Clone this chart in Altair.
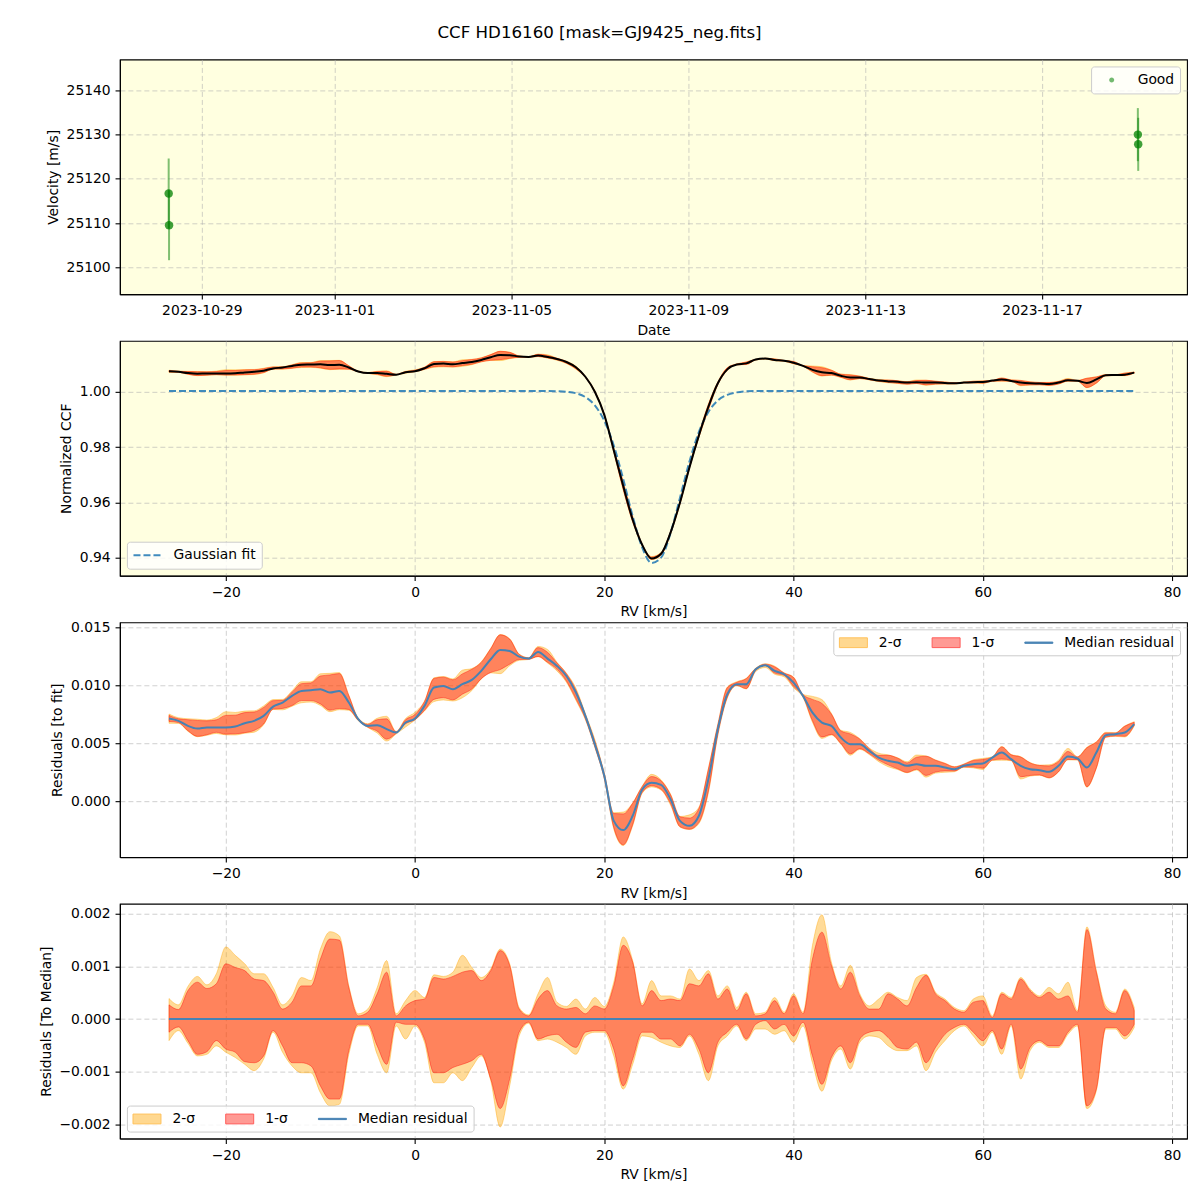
import altair as alt
import numpy as np
import pandas as pd

FONT = "DejaVu Sans"
FS = 13.89
BG = "#FFFFE0"
TITLE = "CCF HD16160 [mask=GJ9425_neg.fits]"

# ---------------- panel 1 : RV time series ----------------
obs_dates = ["2023-10-28T06:00", "2023-10-28T06:12", "2023-11-19T03:58", "2023-11-19T04:10"]
obs_vel = [25116.7, 25109.5, 25130.0, 25127.8]
obs_err = [7.9, 7.9, 6.0, 6.0]
obs_flag = ["Good", "Good", "Good", "Good"]

# ---------------- RV grid (km/s) ----------------
rv = list(range(-26, 77))

# Gaussian fit to the CCF
gauss_fit = [
    1.0003, 1.0003, 1.0003, 1.0003, 1.0003, 1.0003, 1.0003, 1.0003, 1.0003, 1.0003,  # -26..-17
    1.0003, 1.0003, 1.0003, 1.0003, 1.0003, 1.0003, 1.0003, 1.0003, 1.0003, 1.0003,  # -16..-7
    1.0003, 1.0003, 1.0003, 1.0003, 1.0003, 1.0003, 1.0003, 1.0003, 1.0003, 1.0003,  # -6..3
    1.0003, 1.0003, 1.0003, 1.0003, 1.0003, 1.0003, 1.0003, 1.0003, 1.0003, 1.0003,  # 4..13
    1.0003, 1.0002, 1.0000, 0.9995, 0.9981, 0.9951, 0.9895, 0.9806, 0.9684, 0.9550,  # 14..23
    0.9437, 0.9381, 0.9400, 0.9489, 0.9617, 0.9748, 0.9855, 0.9927, 0.9969, 0.9989,  # 24..33
    0.9998, 1.0002, 1.0003, 1.0003, 1.0003, 1.0003, 1.0003, 1.0003, 1.0003, 1.0003,  # 34..43
    1.0003, 1.0003, 1.0003, 1.0003, 1.0003, 1.0003, 1.0003, 1.0003, 1.0003, 1.0003,  # 44..53
    1.0003, 1.0003, 1.0003, 1.0003, 1.0003, 1.0003, 1.0003, 1.0003, 1.0003, 1.0003,  # 54..63
    1.0003, 1.0003, 1.0003, 1.0003, 1.0003, 1.0003, 1.0003, 1.0003, 1.0003, 1.0003,  # 64..73
    1.0003, 1.0003, 1.0003,                                                          # 74..76
]

# Median residual (CCF - fit), units of 1e-3
median_resid_milli = [
    7.13, 6.93, 6.49, 6.26, 6.35, 6.35, 6.35, 6.44, 6.72, 6.93,      # -26..-17
    7.36, 8.16, 8.51, 9.08, 9.51, 9.57, 9.66, 9.37, 9.51, 8.51,      # -16..-7
    7.07, 6.49, 6.55, 6.21, 5.92, 6.78, 7.13, 8.22, 9.80, 9.94,      # -6..3
    9.66, 10.09, 10.46, 11.24, 12.24, 13.05, 12.96, 12.47, 12.30, 12.87,  # 4..13
    12.30, 11.67, 10.80, 9.37, 7.36, 4.91, 2.18, -1.70, -2.50, -1.26,     # 14..23
    1.00, 1.58, 1.40, 0.17, -1.70, -2.13, -1.26, 1.90, 6.21, 9.22,        # 24..33
    10.09, 10.09, 11.38, 11.72, 11.24, 10.95, 10.23, 9.08, 7.64, 6.78,    # 34..43
    6.49, 5.49, 4.91, 4.91, 4.34, 3.76, 3.48, 3.33, 3.05, 3.19,           # 44..53
    3.05, 3.05, 2.90, 2.76, 3.05, 3.19, 3.25, 3.76, 4.20, 3.62,           # 54..63
    3.05, 2.76, 2.67, 2.53, 3.05, 3.85, 3.68, 2.90, 4.20, 5.69,           # 64..73
    5.78, 5.92, 6.64,                                                     # 74..76
]

# Spread around the median (units of 1e-3)
sig1_hi_milli = [
    0.27, 0.18, 0.54, 0.70, 0.58, 0.67, 1.05, 0.98, 0.92, 0.76,
    0.73, 0.51, 0.19, 0.32, 0.63, 0.63, 1.14, 1.52, 1.50, 0.60,
    0.06, 0.13, 0.48, 0.89, 0.06, 0.25, 0.35, 0.38, 0.79, 0.76,
    0.81, 0.89, 0.92, 0.73, 0.92, 1.30, 1.02, 0.19, 0.06, 0.38,
    0.54, 0.25, 0.19, 0.22, 0.10, 0.25, 0.19, 0.63, 1.40, 1.08,
    0.25, 0.54, 0.35, 0.38, 0.35, 0.67, 0.63, 0.86, 0.38, 0.57,
    0.16, 0.48, 0.06, 0.10, 0.35, 0.10, 0.44, 0.10, 1.14, 1.65,
    1.02, 0.57, 0.89, 0.44, 0.19, 0.19, 0.48, 0.38, 0.25, 0.60,
    0.83, 0.48, 0.35, 0.19, 0.13, 0.32, 0.35, 0.03, 0.48, 0.38,
    0.76, 0.54, 0.41, 0.51, 0.38, 0.44, 0.13, 1.70, 0.89, 0.19,
    0.10, 0.54, 0.16,
]
sig2_hi_milli = [
    0.39, 0.27, 0.62, 0.81, 0.65, 0.86, 1.37, 1.21, 1.05, 0.86,
    0.86, 0.60, 0.27, 0.44, 0.79, 0.73, 1.33, 1.66, 1.58, 0.63,
    0.10, 0.19, 0.60, 1.11, 0.10, 0.35, 0.54, 0.41, 0.84, 0.81,
    0.89, 1.21, 0.98, 0.79, 0.95, 1.33, 1.05, 0.22, 0.08, 0.48,
    0.79, 0.32, 0.24, 0.38, 0.19, 0.41, 0.24, 0.70, 1.56, 1.11,
    0.29, 0.73, 0.44, 0.44, 0.38, 0.95, 0.73, 0.92, 0.44, 0.63,
    0.22, 0.51, 0.10, 0.13, 0.41, 0.13, 0.48, 0.13, 1.40, 1.98,
    1.08, 0.63, 1.02, 0.48, 0.25, 0.38, 0.51, 0.41, 0.35, 0.79,
    0.85, 0.51, 0.38, 0.22, 0.16, 0.38, 0.44, 0.06, 0.51, 0.41,
    0.79, 0.57, 0.44, 0.60, 0.48, 0.70, 0.16, 1.75, 0.92, 0.25,
    0.13, 0.57, 0.22,
]
sig1_lo_milli = [
    -0.25, -0.15, -0.41, -0.67, -0.62, -0.41, -0.57, -0.63, -0.81, -0.83,
    -0.70, -0.22, -0.51, -0.83, -0.83, -0.89, -1.27, -1.52, -1.52, -0.60,
    -0.10, -0.10, -0.51, -0.86, -0.06, -0.10, -0.10, -0.38, -1.02, -1.02,
    -0.92, -0.86, -0.79, -0.67, -1.14, -1.70, -1.14, -0.25, -0.06, -0.38,
    -0.32, -0.29, -0.44, -0.54, -0.25, -0.22, -0.22, -0.57, -1.27, -0.76,
    -0.25, -0.25, -0.38, -0.38, -0.51, -0.29, -0.57, -1.02, -0.44, -0.25,
    -0.10, -0.38, -0.10, -0.03, -0.19, -0.10, -0.32, -0.06, -0.70, -1.24,
    -0.73, -0.51, -0.83, -0.38, -0.25, -0.22, -0.35, -0.54, -0.57, -0.44,
    -0.83, -0.54, -0.29, -0.16, -0.10, -0.25, -0.41, -0.22, -0.57, -0.10,
    -0.95, -0.54, -0.41, -0.51, -0.51, -0.25, -0.10, -1.65, -1.33, -0.16,
    -0.16, -0.32, -0.10,
]
sig2_lo_milli = [
    -0.41, -0.22, -0.46, -0.70, -0.67, -0.51, -0.63, -0.73, -0.86, -0.98,
    -0.76, -0.25, -0.63, -0.89, -1.02, -1.02, -1.40, -1.65, -1.62, -0.67,
    -0.13, -0.13, -0.67, -1.02, -0.13, -0.38, -0.13, -0.44, -1.21, -1.21,
    -1.02, -1.17, -0.92, -0.70, -1.17, -2.05, -1.27, -0.32, -0.08, -0.41,
    -0.38, -0.44, -0.54, -0.67, -0.32, -0.25, -0.25, -0.70, -1.33, -0.86,
    -0.32, -0.35, -0.44, -0.51, -0.54, -0.32, -0.67, -1.17, -0.51, -0.32,
    -0.13, -0.41, -0.19, -0.19, -0.29, -0.22, -0.44, -0.13, -0.83, -1.37,
    -0.79, -0.57, -0.95, -0.44, -0.32, -0.35, -0.51, -0.60, -0.60, -0.51,
    -0.98, -0.63, -0.41, -0.22, -0.13, -0.32, -0.51, -0.25, -0.67, -0.13,
    -1.14, -0.60, -0.44, -0.54, -0.54, -0.29, -0.13, -1.70, -1.36, -0.19,
    -0.19, -0.38, -0.16,
]

legend_entries = ["2-σ", "1-σ", "Median residual"]

# ---------------- tables ----------------
df1 = pd.DataFrame({"date": pd.to_datetime(obs_dates), "vel": obs_vel, "err": obs_err, "flag": obs_flag})
df1["day"] = (df1["date"] - pd.Timestamp("2023-10-27")) / pd.Timedelta(days=1)
df1["lo"] = df1["vel"] - df1["err"]
df1["hi"] = df1["vel"] + df1["err"]
df1 = df1.drop(columns="date")

df = pd.DataFrame({"rv": rv, "fit": gauss_fit})
df["med"] = np.array(median_resid_milli) * 1e-3
d_u1 = np.array(sig1_hi_milli) * 1e-3
d_u2 = np.array(sig2_hi_milli) * 1e-3
d_l1 = np.array(sig1_lo_milli) * 1e-3
d_l2 = np.array(sig2_lo_milli) * 1e-3
df["zero"] = 0.0
df["d_u1"], df["d_u2"], df["d_l1"], df["d_l2"] = d_u1, d_u2, d_l1, d_l2
df["r_u1"], df["r_u2"] = df["med"] + d_u1, df["med"] + d_u2
df["r_l1"], df["r_l2"] = df["med"] + d_l1, df["med"] + d_l2
df["ccf"] = df["fit"] + df["med"]
df["c_u1"], df["c_u2"] = df["ccf"] + d_u1, df["ccf"] + d_u2
df["c_l1"], df["c_l2"] = df["ccf"] + d_l1, df["ccf"] + d_l2

W, H = 1068, 235

# ---------------- shared pieces ----------------
def x_rv():
    return alt.X("rv:Q", scale=alt.Scale(domain=[-31.19, 81.58], nice=False, zero=False),
                 axis=alt.Axis(title="RV [km/s]", values=[-20, 0, 20, 40, 60, 80], format="d"))

def y_enc(field, domain, values, fmt, title):
    return alt.Y(field, scale=alt.Scale(domain=domain, nice=False, zero=False),
                 axis=alt.Axis(title=title, values=values, format=fmt))

def leg(orient, **kw):
    base = dict(title=None, orient=orient, offset=7, padding=5.6,
                fillColor="rgba(255,255,255,0.8)", strokeColor="#cccccc", cornerRadius=3,
                labelFont=FONT, labelFontSize=FS, labelColor="black",
                symbolSize=196, labelOffset=25)
    base.update(kw)
    return alt.Legend(**base)

def band(data, lo, hi, y, color):
    return alt.Chart(data).mark_area(
        color=color, fillOpacity=0.4, stroke=color, strokeOpacity=0.4, strokeWidth=1,
        interpolate="monotone"
    ).encode(x=x_rv(), y=y(lo), y2=alt.Y2(hi))

PATCH = "M-1,-0.7L3,-0.7L3,0.7L-1,0.7Z"
LINE = "M-1,-0.09L3,-0.09L3,0.09L-1,0.09Z"

def legend_layer(orient):
    L = leg(orient, direction="horizontal", columnPadding=27.8, symbolStrokeWidth=1,
            symbolOpacity=1)
    return alt.Chart(pd.DataFrame({"entry": legend_entries})).mark_point(
        filled=True, opacity=1
    ).encode(
        fill=alt.Fill("entry:N", scale=alt.Scale(domain=legend_entries,
                                                range=["#FFD890", "#FF9A94", "#4682b4"]), legend=L),
        stroke=alt.Stroke("entry:N", scale=alt.Scale(domain=legend_entries,
                                                    range=["#FFC15A", "#FF5C59", "#4682b4"]), legend=L),
        shape=alt.Shape("entry:N", scale=alt.Scale(domain=legend_entries,
                                                  range=[PATCH, PATCH, LINE]), legend=L),
    ).transform_filter("false")

# ---------------- panel 1 ----------------
x1 = alt.X("day:Q", scale=alt.Scale(domain=[0.147, 24.277], nice=False, zero=False),
           axis=alt.Axis(title="Date", values=[2, 5, 9, 13, 17, 21],
                         labelExpr="utcFormat(datum.value * 86400000 + 1698364800000, '%Y-%m-%d')"))
def y1(field):
    return y_enc(field, [25093.9, 25147.0], [25100, 25110, 25120, 25130, 25140], "d", "Velocity [m/s]")

CIRCLE = "M0.643,0A0.357,0.357,0,1,1,1.357,0A0.357,0.357,0,1,1,0.643,0Z"
err = alt.Chart(df1).mark_rule(color="green", opacity=0.5, strokeWidth=2).encode(
    x=x1, y=y1("lo:Q"), y2="hi:Q")
pts = alt.Chart(df1).mark_circle(size=72, opacity=0.75).encode(
    x=x1, y=y1("vel:Q"),
    color=alt.Color("flag:N", scale=alt.Scale(domain=["Good"], range=["green"]),
                    legend=leg("top-right", symbolType=CIRCLE, symbolOpacity=0.55)))
p1 = alt.layer(err, pts).properties(width=W, height=H)

# ---------------- panel 2 ----------------
def y2(field):
    return y_enc(field, [0.93349, 1.01843], [0.94, 0.96, 0.98, 1.00], ".2f", "Normalized CCF")

fit_line = alt.Chart(df).mark_line(strokeDash=[7, 3], strokeWidth=2, opacity=0.85,
                                   interpolate="monotone").encode(
    x=x_rv(), y=y2("fit:Q"),
    color=alt.Color("lab:N", scale=alt.Scale(domain=["Gaussian fit"], range=["#1f77b4"]),
                    legend=leg("bottom-left", symbolType="M-1,0L3,0", symbolDash=[7, 3],
                               symbolStrokeWidth=2, symbolOpacity=0.85))
).transform_calculate(lab="'Gaussian fit'")
ccf_line = alt.Chart(df).mark_line(color="black", strokeWidth=2, interpolate="monotone").encode(
    x=x_rv(), y=y2("ccf:Q"))
p2 = alt.layer(
    band(df, "c_l2:Q", "c_u2", y2, "orange"),
    band(df, "c_l1:Q", "c_u1", y2, "red"),
    fit_line, ccf_line,
).properties(width=W, height=H)

# ---------------- panel 3 ----------------
def y3(field):
    return y_enc(field, [-0.00483, 0.01543], [0.0, 0.005, 0.010, 0.015], ".3f", "Residuals [to fit]")

med_line = alt.Chart(df).mark_line(color="#4682b4", strokeWidth=2, interpolate="monotone").encode(
    x=x_rv(), y=y3("med:Q"))
p3 = alt.layer(
    band(df, "r_l2:Q", "r_u2", y3, "orange"),
    band(df, "r_l1:Q", "r_u1", y3, "red"),
    med_line, legend_layer("top-right"),
).properties(width=W, height=H)

# ---------------- panel 4 ----------------
def y4(field):
    return y_enc(field, [-0.00227, 0.00219], [-0.002, -0.001, 0.0, 0.001, 0.002], ".3f",
                 "Residuals [To Median]")

zero_line = alt.Chart(df).mark_line(color="#4682b4", strokeWidth=2).encode(
    x=x_rv(), y=y4("zero:Q"))
p4 = alt.layer(
    band(df, "d_l2:Q", "d_u2", y4, "orange"),
    band(df, "d_l1:Q", "d_u1", y4, "red"),
    zero_line, legend_layer("bottom-left"),
).properties(width=W, height=H)

chart = alt.vconcat(p1, p2, p3, p4, spacing=46.67, bounds="flush").resolve_scale(
    color="independent", fill="independent", stroke="independent", shape="independent"
).resolve_legend(
    color="independent", fill="independent", stroke="independent", shape="independent"
).properties(
    title=alt.TitleParams(TITLE, font=FONT, fontSize=16.67, fontWeight="normal", color="black",
                          anchor="middle", frame="group", dx=-54, offset=0, baseline="bottom"),
    padding={"left": 38, "top": 24, "right": 12, "bottom": 10},
    background="white",
).configure_view(
    fill=BG, stroke="black", strokeWidth=1.1
).configure_axis(
    labelFont=FONT, labelFontSize=FS, labelColor="black",
    titleFont=FONT, titleFontSize=FS, titleFontWeight="normal", titleColor="black",
    tickColor="black", tickSize=4.86, tickWidth=1.1, domainColor="black", domainWidth=1.1,
    labelPadding=4.86, titlePadding=5.56,
    grid=True, gridColor="#b0b0b0", gridOpacity=0.6, gridDash=[5, 3], gridWidth=1,
    zindex=1,
)

chart.save("out.html", embed_options={"renderer": "svg", "actions": False})
